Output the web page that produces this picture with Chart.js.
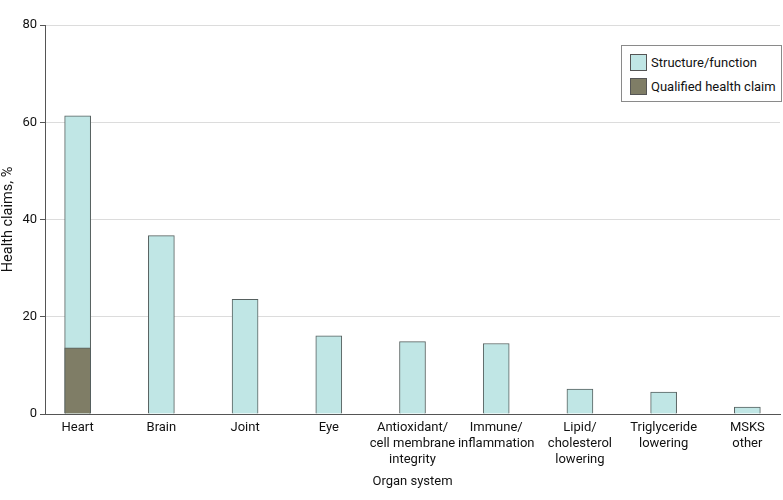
<!DOCTYPE html>
<html lang="en">
<head>
  <meta charset="UTF-8" />
  <title>Health claims by organ system</title>
  <script src="https://cdn.jsdelivr.net/npm/chart.js"></script>
  <style>
    body {
      margin: 0;
      background: #fff;
      font-family: Roboto, 'Liberation Sans', sans-serif;
      color: #111;
    }

    .chart-container {
      position: relative;
      width: 783px;
      height: 500px;
    }

    .legend {
      position: absolute;
      left: 621px;
      top: 45px;
      width: 159px;
      height: 55px;
      border: 1px solid #8a8a8a;
      background: #fff;
      font-size: 13px;
    }

    .legend-item {
      position: absolute;
      left: 8px;
      display: flex;
      align-items: center;
      height: 16px;
    }

    .legend-item span.swatch {
      width: 15px;
      height: 15px;
      border: 1px solid #555;
      margin-right: 4px;
    }
  </style>
</head>
<body>
  <div class="chart-container">
    <canvas id="claimsChart"></canvas>
    <div class="legend" id="legend"></div>
  </div>

  <script>
    const categories = [
      'Heart',
      'Brain',
      'Joint',
      'Eye',
      ['Antioxidant/', 'cell membrane', 'integrity'],
      ['Immune/', 'inflammation'],
      ['Lipid/', 'cholesterol', 'lowering'],
      ['Triglyceride', 'lowering'],
      ['MSKS', 'other']
    ];
    const structureFunction = [61.3, 36.7, 23.6, 16.1, 14.9, 14.5, 5.1, 4.5, 1.4];
    const qualifiedClaim = [13.6];
    const yTicks = [0, 20, 40, 60, 80];

    const toPoints = arr => arr.map((v, i) => ({ x: i, y: v }));

    const datasets = [
      {
        label: 'Structure/function',
        data: toPoints(structureFunction),
        backgroundColor: '#c0e6e5',
        borderColor: '#56605f',
        borderWidth: 1,
        order: 1
      },
      {
        label: 'Qualified health claim',
        data: toPoints(qualifiedClaim),
        backgroundColor: '#7f7d66',
        borderColor: '#56605f',
        borderWidth: 1,
        order: 0
      }
    ];

    // legend box, built from the datasets
    const legend = document.getElementById('legend');
    datasets.forEach((ds, i) => {
      const item = document.createElement('div');
      item.className = 'legend-item';
      item.style.top = (8 + i * 24) + 'px';
      item.innerHTML = `<span class="swatch" style="background:${ds.backgroundColor}"></span>${ds.label}`;
      legend.appendChild(item);
    });

    Chart.defaults.font.family = "Roboto, 'Liberation Sans', sans-serif";
    Chart.defaults.font.size = 13;
    Chart.defaults.color = '#111';

    new Chart(document.getElementById('claimsChart'), {
      type: 'bar',
      data: { datasets: datasets },
      options: {
        responsive: true,
        maintainAspectRatio: false,
        animation: false,
        grouped: false,
        barThickness: 26,
        layout: {
          padding: { top: 25, right: 3, bottom: 0, left: 0 }
        },
        plugins: {
          legend: { display: false },
          tooltip: { enabled: false }
        },
        scales: {
          x: {
            type: 'linear',
            offset: false,
            min: -0.39,
            max: 8.39,
            afterBuildTicks: scale => {
              scale.ticks = categories.map((_, i) => ({ value: i }));
            },
            afterFit: scale => { scale.height = 86; },
            ticks: {
              autoSkip: false,
              maxRotation: 0,
              padding: 6,
              font: { lineHeight: 1.23 },
              callback: v => categories[v]
            },
            grid: { display: false, drawTicks: false },
            border: { color: '#555', width: 1 },
            title: {
              display: true,
              text: 'Organ system',
              padding: { top: 0, bottom: 10 }
            }
          },
          y: {
            min: 0,
            max: 80,
            afterBuildTicks: scale => {
              scale.ticks = yTicks.map(v => ({ value: v }));
            },
            afterFit: scale => { scale.width = 45; },
            ticks: { padding: 3 },
            grid: {
              color: '#dcdcdc',
              tickColor: '#555',
              tickLength: 5
            },
            border: { color: '#555', width: 1 },
            title: {
              display: true,
              text: 'Health claims, %',
              font: { size: 14.5 },
              padding: { top: 0, bottom: 0 }
            }
          }
        }
      }
    });
  </script>
</body>
</html>
